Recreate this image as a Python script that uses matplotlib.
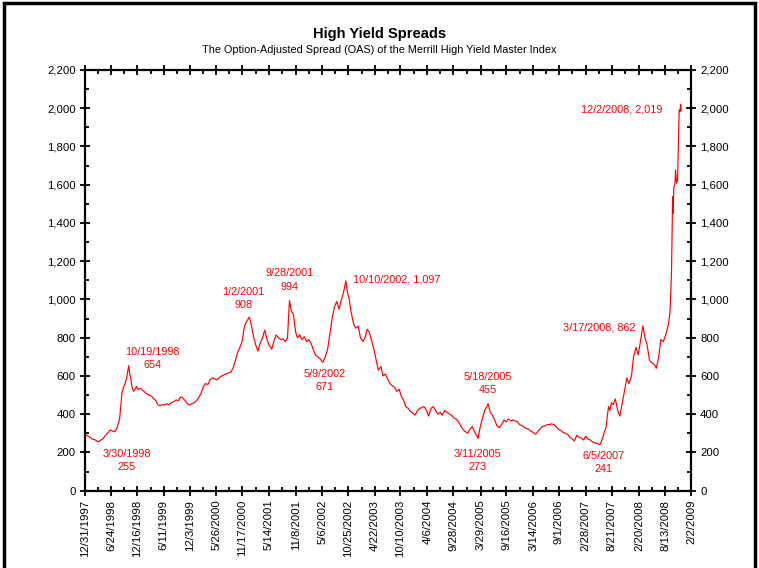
import matplotlib
matplotlib.use("Agg")
import matplotlib.pyplot as plt
import matplotlib.dates as mdates
from matplotlib.patches import Rectangle
from matplotlib.ticker import FuncFormatter, FixedLocator
import numpy as np
import pandas as pd

plt.rcParams['font.family'] = ['Liberation Sans', 'DejaVu Sans']

# ---- data ----
dates = [
    "1997-12-31", "1998-01-09", "1998-01-20", "1998-02-02", "1998-02-16", "1998-03-02", "1998-03-16", "1998-03-30",
    "1998-04-10", "1998-04-24", "1998-05-08", "1998-05-22", "1998-06-05", "1998-06-19", "1998-07-03", "1998-07-17",
    "1998-07-31", "1998-08-10", "1998-08-20", "1998-08-28", "1998-09-04", "1998-09-14", "1998-09-25", "1998-10-05",
    "1998-10-12", "1998-10-19", "1998-10-26", "1998-11-02", "1998-11-09", "1998-11-20", "1998-12-01", "1998-12-10",
    "1998-12-20", "1999-01-05", "1999-01-20", "1999-02-05", "1999-02-20", "1999-03-05", "1999-03-20", "1999-04-05",
    "1999-04-20", "1999-05-01", "1999-05-15", "1999-06-01", "1999-06-15", "1999-07-01", "1999-07-15", "1999-08-01",
    "1999-08-15", "1999-09-01", "1999-09-15", "1999-10-01", "1999-10-15", "1999-11-01", "1999-11-15", "1999-12-01",
    "1999-12-15", "2000-01-01", "2000-01-15", "2000-02-01", "2000-02-15", "2000-03-01", "2000-03-15", "2000-04-01",
    "2000-04-15", "2000-05-01", "2000-05-15", "2000-06-01", "2000-06-15", "2000-07-01", "2000-07-15", "2000-08-01",
    "2000-08-15", "2000-09-01", "2000-09-15", "2000-10-01", "2000-10-15", "2000-11-01", "2000-11-15", "2000-12-01",
    "2000-12-15", "2001-01-02", "2001-01-15", "2001-02-01", "2001-02-15", "2001-03-01", "2001-03-15", "2001-04-01",
    "2001-04-15", "2001-05-01", "2001-05-15", "2001-06-01", "2001-06-15", "2001-07-01", "2001-07-15", "2001-08-01",
    "2001-08-15", "2001-09-01", "2001-09-15", "2001-09-21", "2001-09-28", "2001-10-10", "2001-10-25", "2001-11-08",
    "2001-11-20", "2001-12-05", "2001-12-20", "2002-01-05", "2002-01-20", "2002-02-05", "2002-02-20", "2002-03-05",
    "2002-03-20", "2002-04-05", "2002-04-20", "2002-05-09", "2002-05-25", "2002-06-10", "2002-06-25", "2002-07-10",
    "2002-07-25", "2002-08-10", "2002-08-25", "2002-09-10", "2002-09-25", "2002-10-10", "2002-10-20", "2002-11-01",
    "2002-11-15", "2002-12-01", "2002-12-15", "2003-01-01", "2003-01-15", "2003-02-01", "2003-02-15", "2003-03-01",
    "2003-03-15", "2003-04-01", "2003-04-15", "2003-05-01", "2003-05-15", "2003-06-01", "2003-06-15", "2003-07-01",
    "2003-07-15", "2003-08-01", "2003-08-15", "2003-09-01", "2003-09-15", "2003-10-01", "2003-10-15", "2003-11-01",
    "2003-11-15", "2003-12-01", "2003-12-15", "2004-01-01", "2004-01-15", "2004-02-01", "2004-02-15", "2004-03-01",
    "2004-03-15", "2004-04-01", "2004-04-15", "2004-05-01", "2004-05-15", "2004-06-01", "2004-06-15", "2004-07-01",
    "2004-07-15", "2004-08-01", "2004-08-15", "2004-09-01", "2004-09-15", "2004-10-01", "2004-10-15", "2004-11-01",
    "2004-11-15", "2004-12-01", "2004-12-15", "2005-01-01", "2005-01-15", "2005-02-01", "2005-02-15", "2005-03-01",
    "2005-03-11", "2005-03-25", "2005-04-10", "2005-04-25", "2005-05-10", "2005-05-18", "2005-06-01", "2005-06-15",
    "2005-07-01", "2005-07-15", "2005-08-01", "2005-08-15", "2005-09-01", "2005-09-15", "2005-10-01", "2005-10-15",
    "2005-11-01", "2005-11-15", "2005-12-01", "2005-12-15", "2006-01-01", "2006-01-15", "2006-02-01", "2006-02-15",
    "2006-03-01", "2006-03-15", "2006-04-01", "2006-04-15", "2006-05-01", "2006-05-15", "2006-06-01", "2006-06-15",
    "2006-07-01", "2006-07-15", "2006-08-01", "2006-08-15", "2006-09-01", "2006-09-15", "2006-10-01", "2006-10-15",
    "2006-11-01", "2006-11-15", "2006-12-01", "2006-12-15", "2007-01-01", "2007-01-15", "2007-02-01", "2007-02-15",
    "2007-03-01", "2007-03-15", "2007-04-01", "2007-04-15", "2007-05-01", "2007-05-15", "2007-06-05", "2007-06-20",
    "2007-07-01", "2007-07-15", "2007-07-25", "2007-08-01", "2007-08-10", "2007-08-20", "2007-09-01", "2007-09-15",
    "2007-10-01", "2007-10-15", "2007-11-01", "2007-11-15", "2007-12-01", "2007-12-15", "2008-01-01", "2008-01-15",
    "2008-02-01", "2008-02-15", "2008-03-01", "2008-03-17", "2008-04-01", "2008-04-15", "2008-05-01", "2008-05-15",
    "2008-06-01", "2008-06-15", "2008-07-01", "2008-07-15", "2008-08-01", "2008-08-15", "2008-09-03", "2008-09-14",
    "2008-09-18", "2008-09-25", "2008-10-02", "2008-10-06", "2008-10-10", "2008-10-17", "2008-10-22", "2008-10-28",
    "2008-11-04", "2008-11-09", "2008-11-15", "2008-11-20", "2008-11-25", "2008-11-28",
]
spread = [
    300, 290, 285, 280, 270, 268, 262, 255,
    262, 268, 280, 295, 305, 318, 312, 308,
    325, 350, 380, 450, 510, 540, 560, 590,
    620, 654, 610, 590, 545, 520, 530, 545,
    530, 535, 525, 515, 505, 500, 495, 480,
    470, 450, 445, 450, 448, 455, 450, 460,
    465, 475, 470, 490, 485, 470, 455, 448,
    455, 460, 470, 490, 510, 545, 560, 555,
    580, 590, 585, 580, 590, 600, 605, 610,
    615, 620, 640, 680, 720, 750, 780, 860,
    885, 908, 870, 800, 760, 730, 770, 800,
    840, 790, 760, 740, 780, 815, 800, 790,
    795, 780, 800, 900, 994, 940, 920, 830,
    800, 815, 790, 805, 780, 790, 770, 740,
    710, 700, 690, 671, 700, 740, 820, 900,
    960, 990, 950, 1000, 1040, 1097, 1040, 1000,
    930, 870, 850, 860, 800, 780, 800, 845,
    830, 780, 740, 680, 630, 650, 600, 610,
    585, 560, 550, 540, 520, 530, 495, 470,
    440, 430, 415, 405, 395, 420, 430, 435,
    440, 420, 390, 430, 440, 420, 400, 410,
    395, 420, 410, 400, 395, 380, 375, 360,
    340, 320, 310, 300, 320, 335, 310, 290,
    273, 330, 380, 420, 440, 455, 410, 395,
    370, 340, 330, 345, 370, 360, 375, 365,
    370, 365, 360, 345, 340, 330, 325, 320,
    310, 305, 295, 310, 325, 335, 340, 345,
    345, 350, 345, 335, 320, 315, 305, 300,
    295, 280, 270, 260, 290, 280, 275, 265,
    285, 270, 265, 255, 250, 248, 241, 270,
    300, 330, 400, 440, 420, 460, 450, 480,
    420, 390, 460, 520, 590, 560, 600, 700,
    750, 710, 780, 862, 800, 760, 680, 670,
    660, 640, 700, 790, 780, 810, 866, 928,
    997, 1154, 1538, 1451, 1590, 1599, 1677, 1608,
    1625, 1799, 1991, 1982, 2021, 1990,
]

tick_labels = ["12/31/1997", "6/24/1998", "12/16/1998", "6/11/1999", "12/3/1999", "5/26/2000",
               "11/17/2000", "5/14/2001", "11/8/2001", "5/6/2002", "10/25/2002", "4/22/2003",
               "10/10/2003", "4/6/2004", "9/28/2004", "3/29/2005", "9/16/2005", "3/14/2006",
               "9/1/2006", "2/28/2007", "8/21/2007", "2/20/2008", "8/13/2008", "2/2/2009"]

labels = ["3/30/1998\n255", "10/19/1998\n654", "1/2/2001\n908", "9/28/2001\n994", "5/9/2002\n671",
          "10/10/2002, 1,097", "3/11/2005\n273", "5/18/2005\n455", "6/5/2007\n241",
          "3/17/2008, 862", "12/2/2008, 2,019"]

# ---- figure ----
fig = plt.figure(figsize=(7.59, 5.68), dpi=100)
ax = fig.add_axes([85/759, 1-490.7/568, 606/759, 420.7/568])

x = mdates.date2num(pd.to_datetime(dates))
ax.plot(x, spread, color='#ff0000', lw=0.85)

tick_x = mdates.date2num(pd.to_datetime(tick_labels, format="%m/%d/%Y"))
ax.set_xlim(tick_x[0], tick_x[-1])
ax.set_ylim(0, 2200)

ax.xaxis.set_major_locator(FixedLocator(tick_x))
ax.xaxis.set_minor_locator(FixedLocator((tick_x[:-1] + tick_x[1:]) / 2))
ax.set_xticklabels(tick_labels, rotation=90, fontsize=8.2)
ax.set_yticks(np.arange(0, 2201, 200))
ax.set_yticks(np.arange(100, 2200, 200), minor=True)
ax.yaxis.set_major_formatter(FuncFormatter(lambda v, p: f"{int(v):,}"))

ax.tick_params(which='major', direction='inout', length=7, width=1.3,
               top=True, right=True, labelright=True, labelsize=8.2, pad=3)
ax.tick_params(which='minor', direction='in', length=3, width=1.3, top=True, right=True)
for s in ax.spines.values():
    s.set_linewidth(1.6)

# annotations (positions in axes fraction)
ann_pos = [(0.0693, 0.0718, 'center'), (0.112, 0.314, 'center'), (0.261, 0.456, 'center'),
           (0.338, 0.501, 'center'), (0.396, 0.262, 'center'), (0.442, 0.501, 'left'),
           (0.647, 0.0718, 'center'), (0.665, 0.255, 'center'), (0.856, 0.067, 'center'),
           (0.909, 0.387, 'right'), (0.952, 0.907, 'right')]
for t, (fx, fy, ha) in zip(labels, ann_pos):
    ax.text(fx, fy, t, transform=ax.transAxes, ha=ha, va='center', color='#ff0000',
            fontsize=7.8, multialignment='center', linespacing=1.4)

fig.text(0.5, 1-34/568, "High Yield Spreads", ha='center', va='center', fontsize=10.5, fontweight='bold')
fig.text(0.5, 1-50/568, "The Option-Adjusted Spread (OAS) of the Merrill High Yield Master Index",
         ha='center', va='center', fontsize=7.8)

# outer frame
fig.patches.append(Rectangle((3.5/759, -0.05), 751/759, 1.05 - 3/568, transform=fig.transFigure,
                             fill=False, edgecolor='black', lw=2.5, zorder=10))

fig.savefig("out.png", dpi=100)
